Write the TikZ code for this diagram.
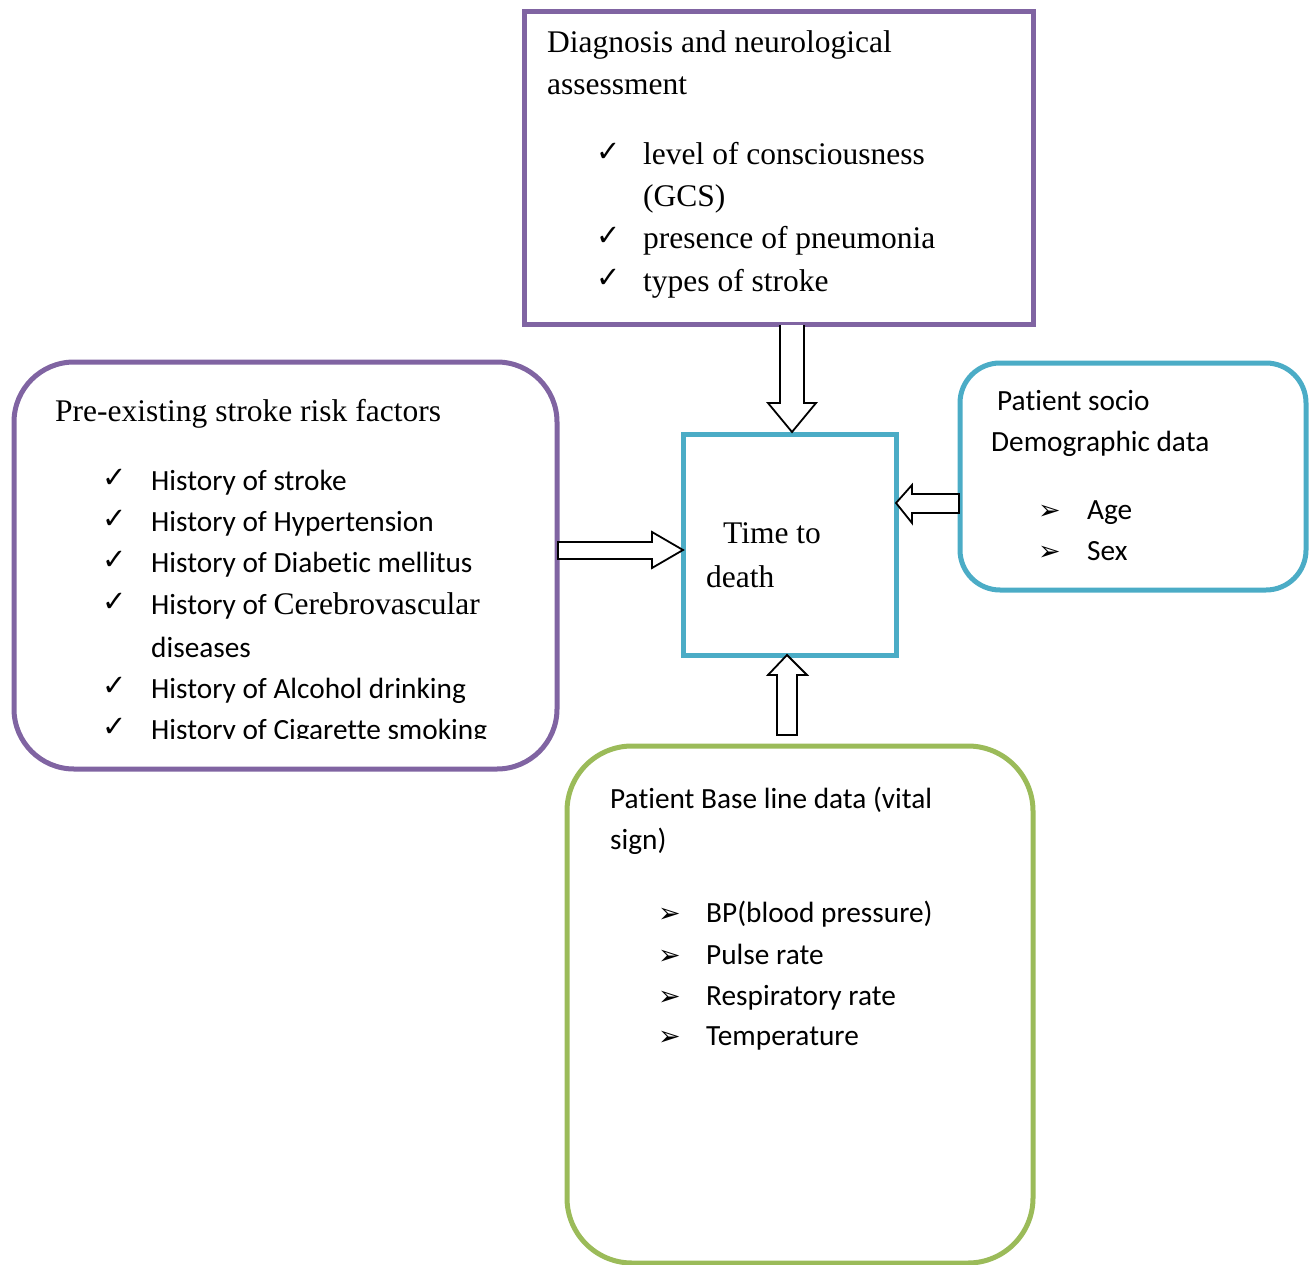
\documentclass[tikz,border=0pt]{standalone}
\usepackage{fontspec}
\setmainfont{Liberation Serif}
\newfontfamily\calfont[Ligatures=CommonOff]{Carlito}
\newfontfamily\djvfont{DejaVu Sans}
\definecolor{boxpurple}{HTML}{8064A2}
\definecolor{boxcyan}{HTML}{4BACC6}
\definecolor{boxgreen}{HTML}{9BBB59}
\tikzset{
  frame/.style={line width=5pt, inner sep=0pt, outer sep=0pt, anchor=north west},
  purplebox/.style={frame, draw=boxpurple},
  cyanbox/.style={frame, draw=boxcyan},
  greenbox/.style={frame, draw=boxgreen},
  sertext/.style={inner sep=0pt, anchor=base west, font=\fontsize{31.5}{37}\selectfont},
  santext/.style={inner sep=0pt, anchor=base west, font=\calfont\fontsize{29.3}{35}\selectfont},
  checkmk/.style={inner sep=0pt, anchor=base west, font=\djvfont\fontsize{29}{33}\selectfont},
  arrowmk/.style={inner sep=0pt, anchor=base west, font=\djvfont\fontsize{27}{31}\selectfont},
  blockarrow/.style={draw=black, fill=white, line width=1.8pt, line join=miter}
}
\begin{document}
\begin{tikzpicture}[x=1pt,y=-1pt]
\useasboundingbox (0,0) rectangle (1309,1265);

% boxes
\node[purplebox, minimum width=509pt, minimum height=312pt] (diag) at (524,12) {};
\node[purplebox, rounded corners=60pt, minimum width=543pt, minimum height=407pt] (risk) at (14,362) {};
\node[cyanbox, minimum width=213pt, minimum height=221pt] (time) at (683,434) {};
\node[cyanbox, rounded corners=40pt, minimum width=346pt, minimum height=227pt] (socio) at (960,363) {};
\node[greenbox, rounded corners=65pt, minimum width=466pt, minimum height=517pt] (base) at (567,746) {};

% block arrows
\draw[blockarrow] (780,325) -- (780,403) -- (768,403) -- (792,432) -- (816,403) -- (804,403) -- (804,325);
\draw[blockarrow] (558,542) -- (652,542) -- (652,532) -- (683,550) -- (652,568) -- (652,559) -- (558,559) -- cycle;
\draw[blockarrow] (959,494) -- (912,494) -- (912,485) -- (896,503) -- (912,523) -- (912,513) -- (959,513) -- cycle;
\draw[blockarrow] (777,735) -- (777,675) -- (768,675) -- (787,655) -- (807,675) -- (797,675) -- (797,735) -- cycle;

% top box text
\node[sertext] (d1) at (547,53) {Diagnosis and neurological};
\node[sertext] (d2) at (547,95) {assessment};
\node[checkmk] (dc1) at (596,162) {✓};
\node[sertext] (d3) at (643,165) {level of consciousness};
\node[sertext] (d4) at (643,207) {(GCS)};
\node[checkmk] (dc2) at (596,246) {✓};
\node[sertext] (d5) at (643,249) {presence of pneumonia};
\node[checkmk] (dc3) at (596,288) {✓};
\node[sertext] (d6) at (643,291) {types of stroke};

% left box text
\node[sertext] (r0) at (55,421) {Pre-existing stroke risk factors};
\node[checkmk] (rc1) at (102,487) {✓};
\node[santext] (r1) at (151,490) {History of stroke};
\node[checkmk] (rc2) at (102,528) {✓};
\node[santext] (r2) at (151,531) {History of Hypertension};
\node[checkmk] (rc3) at (102,569) {✓};
\node[santext] (r3) at (151,572) {History of Diabetic mellitus};
\node[checkmk] (rc4) at (102,611) {✓};
\node[santext] (r4) at (151,614) {History of {\rmfamily\fontsize{31.5}{37}\selectfont Cerebrovascular}};
\node[santext] (r5) at (151,657) {diseases};
\node[checkmk] (rc6) at (102,695) {✓};
\node[santext] (r6) at (151,698) {History of Alcohol drinking};
\begin{scope}
  \clip (90,700) rectangle (540,738);
  \node[checkmk] (rc7) at (102,736) {✓};
  \node[santext] (r7) at (151,739) {History of Cigarette smoking};
\end{scope}

% center text
\node[sertext] (t1) at (723,543) {Time to};
\node[sertext] (t2) at (706,587) {death};

% right box text
\node[santext] (s1) at (997,410) {Patient socio};
\node[santext] (s2) at (991,451) {Demographic data};
\node[arrowmk] (sa1) at (1038,519) {➢};
\node[santext] (s3) at (1087,519) {Age};
\node[arrowmk] (sa2) at (1038,560) {➢};
\node[santext] (s4) at (1087,560) {Sex};

% bottom box text
\node[santext] (b1) at (610,808) {Patient Base line data (vital};
\node[santext] (b2) at (610,849) {sign)};
\node[arrowmk] (ba1) at (658,922) {➢};
\node[santext] (b3) at (706,922) {BP(blood pressure)};
\node[arrowmk] (ba2) at (658,964) {➢};
\node[santext] (b4) at (706,964) {Pulse rate};
\node[arrowmk] (ba3) at (658,1005) {➢};
\node[santext] (b5) at (706,1005) {Respiratory rate};
\node[arrowmk] (ba4) at (658,1045) {➢};
\node[santext] (b6) at (706,1045) {Temperature};
\end{tikzpicture}
\end{document}
